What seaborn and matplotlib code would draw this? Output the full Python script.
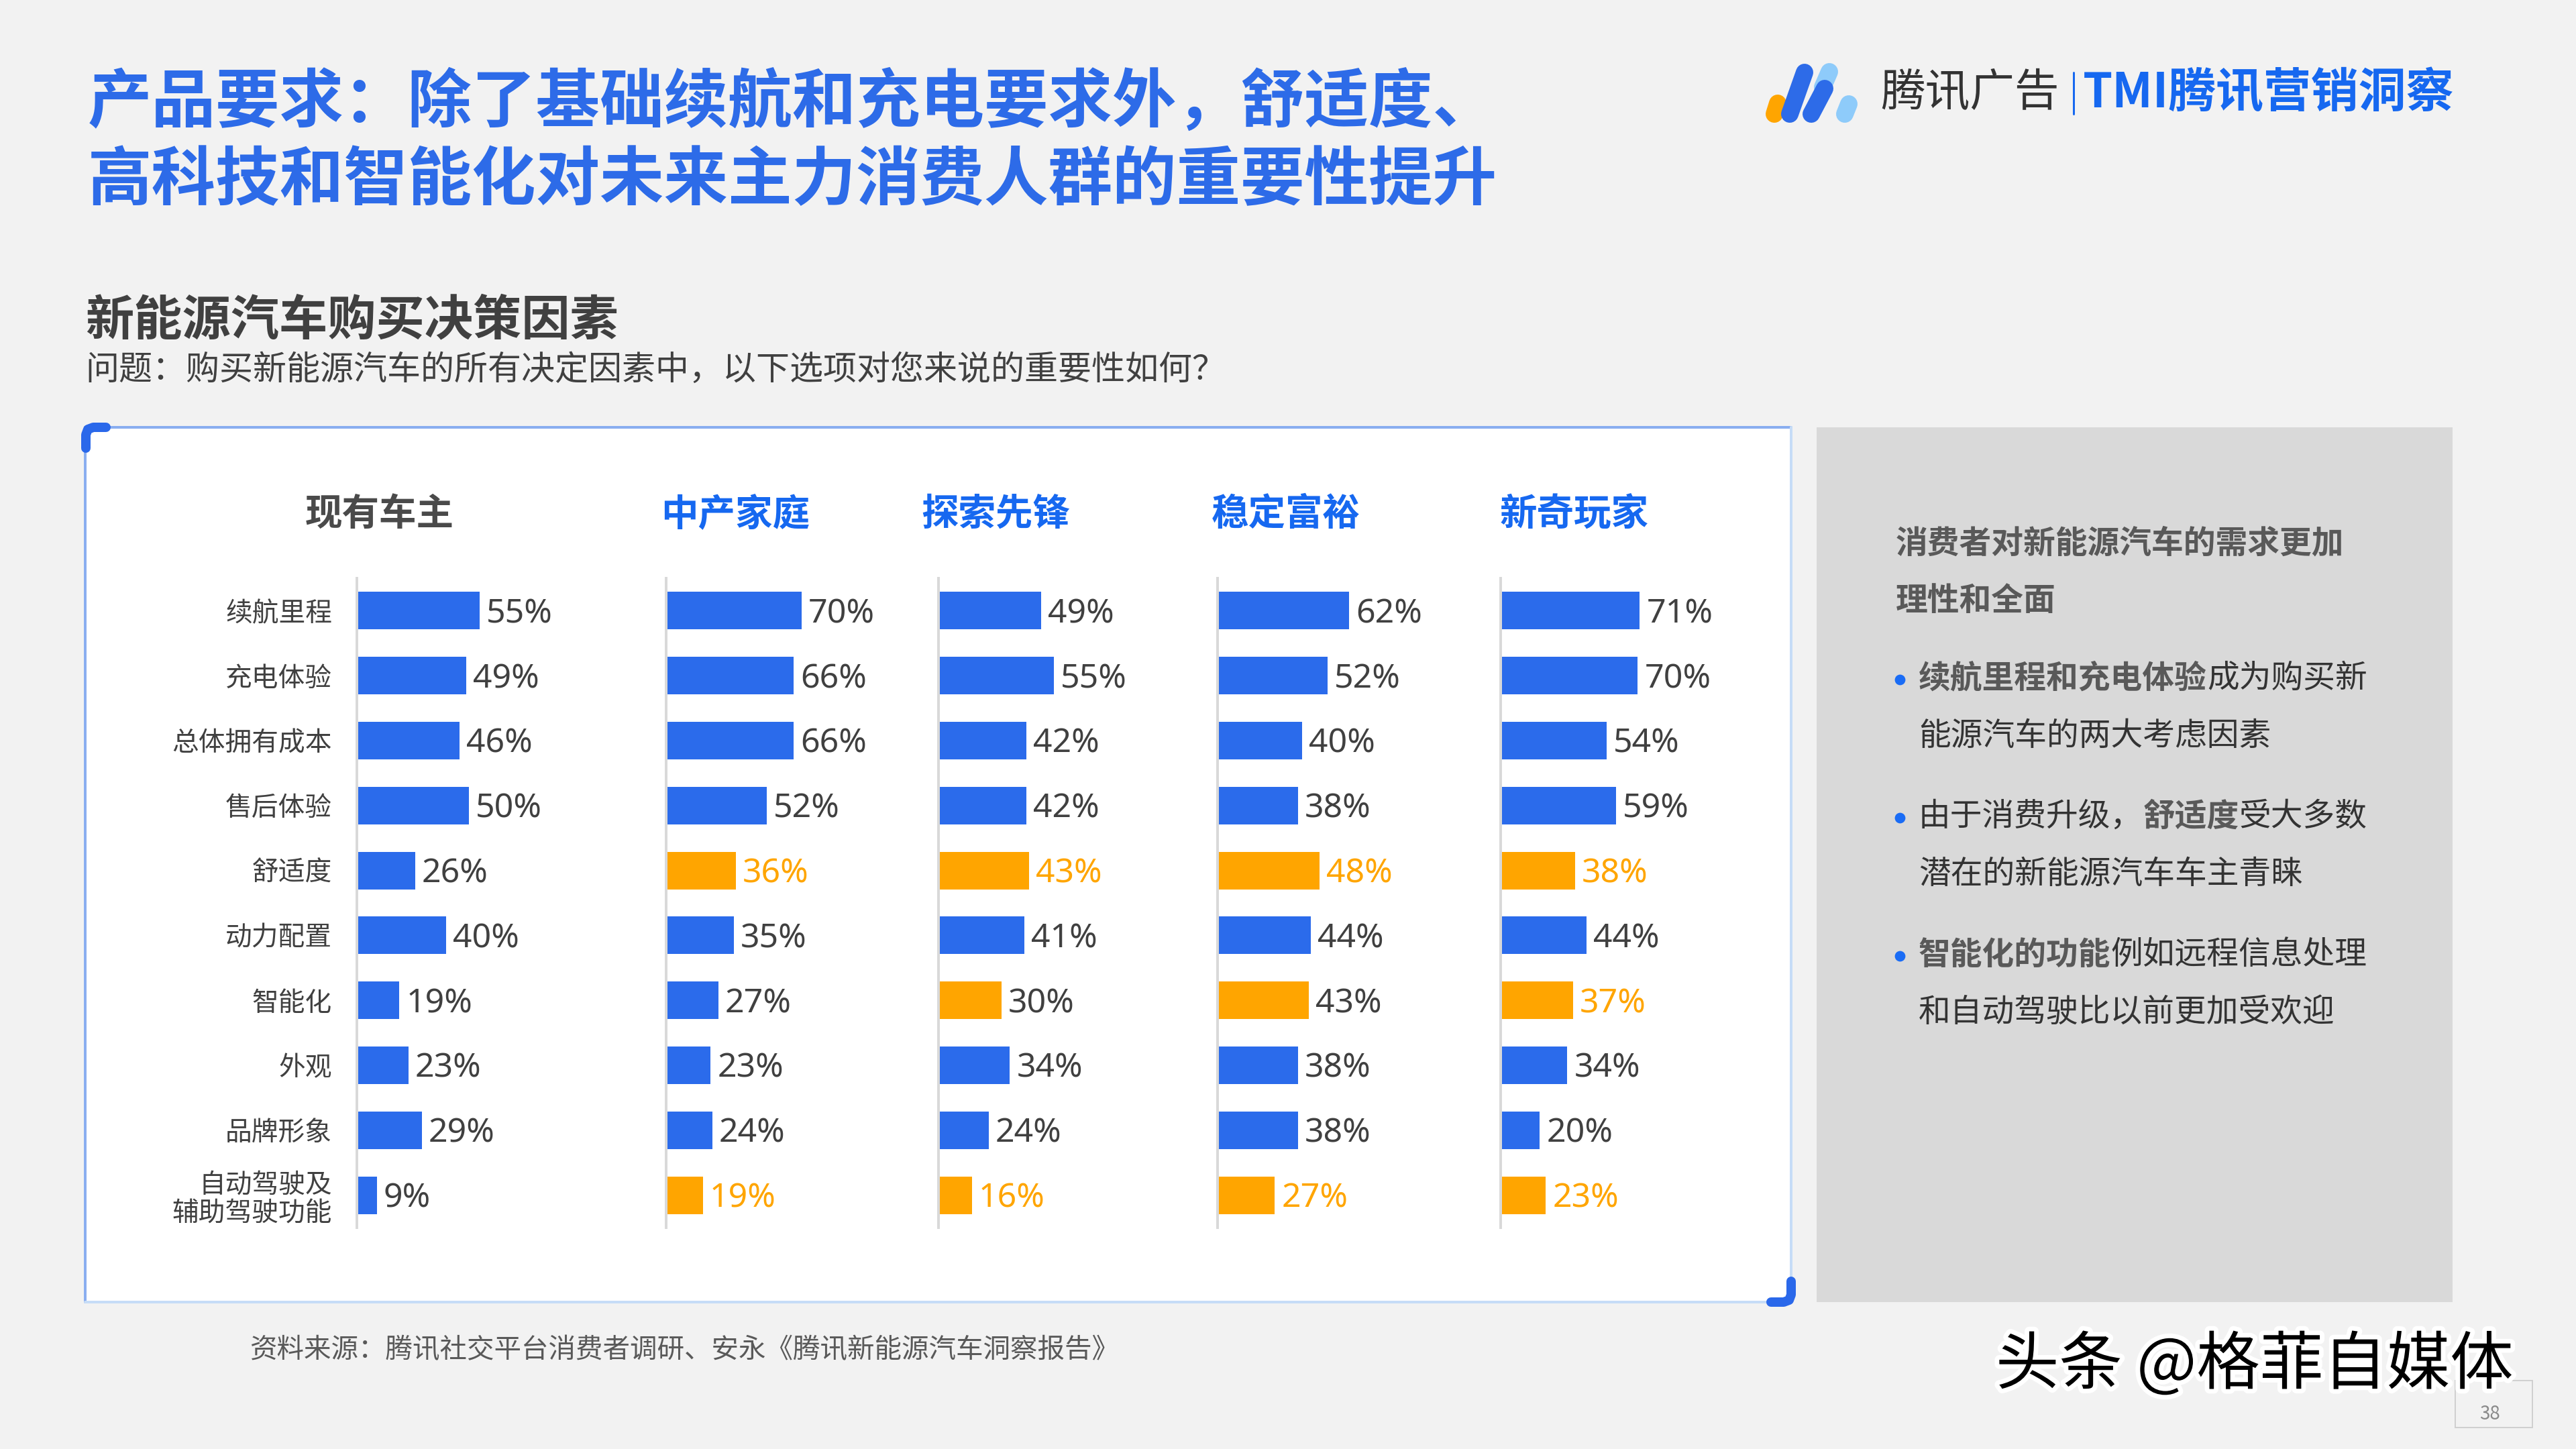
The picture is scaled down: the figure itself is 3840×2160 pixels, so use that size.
import numpy as np
import pandas as pd
import matplotlib
matplotlib.use("Agg")
import matplotlib.pyplot as plt
import seaborn as sns
from matplotlib.patches import Rectangle
import matplotlib.patheffects as pe

# data
factors = ["续航里程", "充电体验", "总体拥有成本", "售后体验", "舒适度",
           "动力配置", "智能化", "外观", "品牌形象", "自动驾驶及\n辅助驾驶功能"]
groups = ["现有车主", "中产家庭", "探索先锋", "稳定富裕", "新奇玩家"]

owner = [55, 49, 46, 50, 26, 40, 19, 23, 29, 9]
middle = [70, 66, 66, 52, 36, 35, 27, 23, 24, 19]
explorer = [49, 55, 42, 42, 43, 41, 30, 34, 24, 16]
wealthy = [62, 52, 40, 38, 48, 44, 43, 38, 38, 27]
novelty = [71, 70, 54, 59, 38, 44, 37, 34, 20, 23]

# which rows get an orange bar / an orange label
owner_bar_hl, owner_lab_hl = [], []
middle_bar_hl, middle_lab_hl = [4, 9], [4, 9]
explorer_bar_hl, explorer_lab_hl = [4, 6, 9], [4, 9]
wealthy_bar_hl, wealthy_lab_hl = [4, 6, 9], [4, 9]
novelty_bar_hl, novelty_lab_hl = [4, 6, 9], [4, 6, 9]

values = [owner, middle, explorer, wealthy, novelty]
bar_hl = [owner_bar_hl, middle_bar_hl, explorer_bar_hl, wealthy_bar_hl, novelty_bar_hl]
lab_hl = [owner_lab_hl, middle_lab_hl, explorer_lab_hl, wealthy_lab_hl, novelty_lab_hl]

title1 = "产品要求：除了基础续航和充电要求外，舒适度、"
title2 = "高科技和智能化对未来主力消费人群的重要性提升"
subtitle = "新能源汽车购买决策因素"
question = "问题：购买新能源汽车的所有决定因素中，以下选项对您来说的重要性如何？"
source = "资料来源：腾讯社交平台消费者调研、安永《腾讯新能源汽车洞察报告》"
side_head = ["消费者对新能源汽车的需求更加", "理性和全面"]
side_bullets = [
    [[("续航里程和充电体验", True), ("成为购买新", False)], [("能源汽车的两大考虑因素", False)]],
    [[("由于消费升级，", False), ("舒适度", True), ("受大多数", False)], [("潜在的新能源汽车车主青睐", False)]],
    [[("智能化的功能", True), ("例如远程信息处理", False)], [("和自动驾驶比以前更加受欢迎", False)]],
]

# layout (pixels on a 3840x2160 canvas)
W, H, DPI = 3840, 2160, 200
BLUE = "#2b6beb"
ORANGE = "#ffa500"
DARK = "#404040"
axis_x = [532, 993, 1399, 1815, 2237]
px_per_pct = [3.33, 2.88, 3.13, 3.16, 2.92]
head_x = [566, 1096, 1484, 1917, 2347]
AX_TOP, AX_BOT, AX_W = 862, 1830, 380


def pt(px):
    return px * 72 / DPI


sns.set_theme(style="white")
plt.rcParams["font.family"] = ["Noto Sans CJK SC", "DejaVu Sans"]

fig = plt.figure(figsize=(W / DPI, H / DPI), dpi=DPI, facecolor="#f2f2f2")
bg = fig.add_axes([0, 0, 1, 1], zorder=0)
bg.set_xlim(0, W)
bg.set_ylim(H, 0)
bg.axis("off")

# titles
bg.text(131, 154, title1, fontsize=34.4, fontweight="bold", color="#2d6be8", va="center")
bg.text(131, 270, title2, fontsize=34.4, fontweight="bold", color="#2d6be8", va="center")
bg.text(127, 478, subtitle, fontsize=26, fontweight="bold", color=DARK, va="center")
bg.text(127, 552, question, fontsize=18, color=DARK, va="center")

# logo
logo = [((2645, 170), (2650, 154), ORANGE),
        ((2668, 170), (2690, 108), "#2d6be8"),
        ((2717, 130), (2727, 107), "#8ecbfa"),
        ((2700, 170), (2720, 132), "#2d6be8"),
        ((2750, 170), (2756, 155), "#8ecbfa")]
for a, b, c in logo:
    bg.plot([a[0], b[0]], [a[1], b[1]], color=c, lw=pt(26), solid_capstyle="round")
bg.text(2803, 139, "腾讯广告", fontsize=24, color="#333333", va="center")
bg.plot([3091, 3091], [108, 170], color="#1668f0", lw=pt(3))
bg.text(3105, 139, "TMI腾讯营销洞察", fontsize=25.5, fontweight="bold", style="italic",
        color="#1668f0", va="center")

# white chart panel with corner marks
bg.add_patch(Rectangle((127, 637), 2670 - 127, 1941 - 637, facecolor="white", edgecolor="none"))
bg.plot([127, 2670], [637, 637], color="#8aaef0", lw=pt(4))
bg.plot([127, 127], [637, 1941], color="#8aaef0", lw=pt(4))
bg.plot([127, 2670], [1941, 1941], color="#c6dcf7", lw=pt(4))
bg.plot([2670, 2670], [637, 1941], color="#c6dcf7", lw=pt(4))
bg.plot([128, 128, 131, 139, 158], [668, 648, 640, 637, 637], color="#2a68ea",
        lw=pt(14), solid_capstyle="round", solid_joinstyle="round")
bg.plot([2670, 2670, 2667, 2659, 2640], [1910, 1930, 1938, 1941, 1941], color="#2a68ea",
        lw=pt(14), solid_capstyle="round", solid_joinstyle="round")

# grey side panel
bg.add_patch(Rectangle((2708, 637), 3656 - 2708, 1941 - 637, facecolor="#d9d9d9", edgecolor="none"))
FS_SIDE = 17.2
EM = FS_SIDE * DPI / 72
bg.text(2826, 810, side_head[0], fontsize=FS_SIDE, fontweight="bold", color="#595959", va="center")
bg.text(2826, 896, side_head[1], fontsize=FS_SIDE, fontweight="bold", color="#595959", va="center")
line_y = [(1011, 1097), (1217, 1303), (1423, 1509)]
for (y1, y2), lines in zip(line_y, side_bullets):
    bg.plot(2832, y1 + 2, "o", color="#1a6cf5", markersize=pt(13))
    for y, segs in zip((y1, y2), lines):
        x = 2860
        for txt, bold in segs:
            bg.text(x, y, txt, fontsize=FS_SIDE, va="center",
                    fontweight="bold" if bold else "normal",
                    color="#595959" if bold else "#333333")
            x += len(txt) * EM

# footer, watermark, page number
bg.text(372, 2012, source, fontsize=14.6, color="#595959", va="center")
bg.text(2975, 2036, "头条 @格菲自媒体", fontsize=34, color="black", va="center",
        path_effects=[pe.withStroke(linewidth=5, foreground="white")])
bg.add_patch(Rectangle((3660, 2058), 115, 70, facecolor="none", edgecolor="#d0d0d0", lw=pt(2)))
bg.text(3712, 2108, "38", fontsize=10, color="#8a8a8a", ha="center", va="center")

# bar groups
for i, g in enumerate(groups):
    df = pd.DataFrame({"factor": factors, "value": values[i]})
    cols = [ORANGE if j in bar_hl[i] else BLUE for j in range(len(factors))]
    ax = fig.add_axes([axis_x[i] / W, 1 - AX_BOT / H, AX_W / W, (AX_BOT - AX_TOP) / H], zorder=2)
    sns.barplot(data=df, x="value", y="factor", hue="factor", palette=cols, legend=False,
                width=0.58, saturation=1, linewidth=0, ax=ax)
    ax.set_xlim(0, AX_W / px_per_pct[i])
    ax.set_ylim(len(factors) - 0.5, -0.5)
    ax.patch.set_alpha(0)
    for s in ["top", "right", "bottom"]:
        ax.spines[s].set_visible(False)
    ax.spines["left"].set_color("#d9d9d9")
    ax.spines["left"].set_linewidth(pt(4))
    ax.set_xticks([])
    ax.set_xlabel("")
    ax.set_ylabel("")
    if i == 0:
        ax.tick_params(axis="y", length=0, pad=pt(37), labelsize=14.3, labelcolor=DARK)
        for lab in ax.get_yticklabels():
            lab.set_linespacing(1.1)
    else:
        ax.tick_params(axis="y", length=0)
        ax.set_yticklabels([])
    for j, v in enumerate(values[i]):
        ax.annotate(f"{v}%", (v, j), xytext=(pt(10), -pt(5)), textcoords="offset points",
                    va="center", ha="left", fontsize=18,
                    color=ORANGE if j in lab_hl[i] else DARK,
                    family=["Noto Sans", "DejaVu Sans"])
    bg.text(head_x[i], 767, g, ha="center", va="center", fontsize=20, fontweight="bold",
            color="#4a4a4a" if i == 0 else "#1668f0")

fig.savefig("out.png", dpi=DPI, facecolor=fig.get_facecolor())
